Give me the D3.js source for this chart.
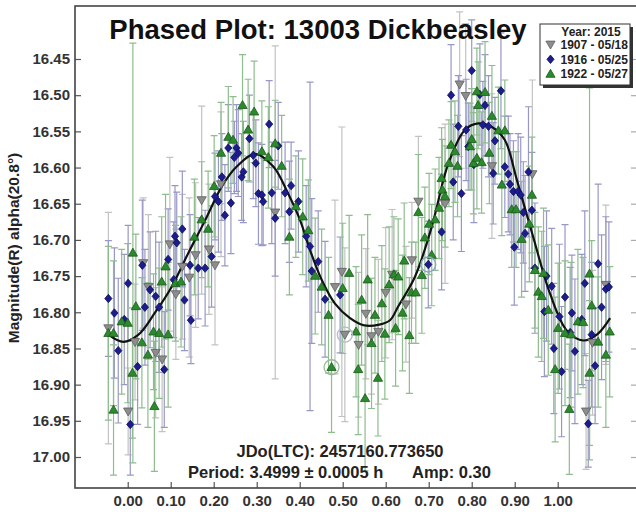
<!DOCTYPE html>
<html>
<head>
<meta charset="utf-8">
<script src="https://cdn.jsdelivr.net/npm/d3@7"></script>
<style>
  html, body { margin: 0; padding: 0; background: #fff; }
  svg { display: block; font-family: "Liberation Sans", Arial, sans-serif; }
</style>
</head>
<body>
<svg id="chart" width="636" height="512"></svg>
<script>
// ---- Session 1907 - 05/18 (grey, down triangles)
const grayPhase = [-0.045, 0.001, 0.017, 0.036, 0.048, 0.065, 0.080, 0.098, 0.112, 0.127, 0.143, 0.158, 0.172, 0.189, 0.203, 0.217,
  0.343, 0.482, 0.498, 0.505, 0.537, 0.554, 0.567, 0.583, 0.600, 0.615, 0.647, 0.661, 0.676, 0.738, 0.772, 0.786, 0.847, 0.941,
  1.066, 1.081, 1.112];
const grayMag = [16.822, 16.937, 16.841, 16.732, 16.765, 16.856, 16.865, 16.706, 16.775, 16.737, 16.752, 16.721, 16.645, 16.713, 16.735, 16.623,
  16.662, 16.765, 16.744, 16.831, 16.845, 16.802, 16.833, 16.827, 16.773, 16.748, 16.789, 16.728, 16.647, 16.650, 16.485, 16.501, 16.598, 16.609,
  16.937, 16.842, 16.762];
const grayErr = [0.16, 0.06, 0.08, 0.09, 0.10, 0.09, 0.10, 0.12, 0.09, 0.10, 0.11, 0.10, 0.13, 0.09, 0.11, 0.10,
  0.23, 0.12, 0.20, 0.12, 0.10, 0.09, 0.08, 0.10, 0.09, 0.09, 0.08, 0.08, 0.09, 0.11, 0.10, 0.10, 0.10, 0.13,
  0.08, 0.10, 0.11];

// ---- Session 1916 - 05/25 (blue diamonds)
const bluePhase = [-0.045, -0.031, -0.022, -0.008, 0.001, 0.006, 0.023, 0.034, 0.040, 0.052, 0.065, 0.073, 0.085, 0.094, 0.107, 0.110,
  0.114, 0.127, 0.132, 0.145, 0.147, 0.164, 0.180, 0.195, 0.203, 0.211, 0.219, 0.226, 0.234, 0.240, 0.248, 0.253, 0.257, 0.265, 0.269,
  0.283, 0.292, 0.298, 0.304, 0.312, 0.315, 0.329, 0.335, 0.343, 0.350, 0.366, 0.376, 0.380, 0.397, 0.415, 0.424, 0.428, 0.443, 0.459,
  0.494, 0.699, 0.730, 0.752, 0.757, 0.769, 0.776, 0.787, 0.792, 0.800, 0.805, 0.819, 0.831, 0.826, 0.839, 0.850, 0.854, 0.868, 0.877,
  0.885, 0.889, 0.897, 0.908, 0.914, 0.920, 0.924, 0.932, 0.940, 0.899, 0.947, 0.974, 0.986, 0.969, 0.991, 1.004, 1.009, 1.017, 1.029,
  1.033, 1.040, 1.056, 1.063, 1.071, 1.079, 1.087, 1.094, 1.102, 1.112, 1.119];
const blueMag = [16.781, 16.801, 16.853, 16.810, 16.760, 16.955, 16.875, 16.735, 16.793, 16.769, 16.778, 16.793, 16.879, 16.727, 16.755, 16.695,
  16.704, 16.685, 16.783, 16.735, 16.811, 16.739, 16.739, 16.723, 16.640, 16.647, 16.613, 16.666, 16.573, 16.649, 16.586, 16.573, 16.580, 16.613, 16.606,
  16.560, 16.583, 16.594, 16.636, 16.638, 16.647, 16.540, 16.635, 16.670, 16.570, 16.635, 16.661, 16.625, 16.647, 16.695, 16.709, 16.743, 16.730, 16.782,
  16.776, 16.734, 16.689, 16.500, 16.620, 16.543, 16.636, 16.548, 16.571, 16.466, 16.596, 16.499, 16.514, 16.541, 16.543, 16.608, 16.563, 16.494, 16.599,
  16.609, 16.623, 16.633, 16.633, 16.638, 16.662, 16.691, 16.606, 16.659, 16.710, 16.739, 16.750, 16.764, 16.799, 16.850, 16.806, 16.882, 16.779, 16.828,
  16.801, 16.854, 16.810, 16.760, 16.954, 16.831, 16.874, 16.733, 16.793, 16.768, 16.765];
const blueErr = [0.08, 0.09, 0.10, 0.09, 0.08, 0.07, 0.08, 0.09, 0.08, 0.08, 0.09, 0.09, 0.08, 0.07, 0.08, 0.07,
  0.07, 0.08, 0.07, 0.07, 0.06, 0.07, 0.08, 0.07, 0.06, 0.07, 0.06, 0.07, 0.06, 0.07, 0.05, 0.06, 0.06, 0.06, 0.07,
  0.06, 0.06, 0.06, 0.07, 0.07, 0.06, 0.06, 0.07, 0.08, 0.06, 0.07, 0.07, 0.06, 0.07, 0.07, 0.227, 0.10, 0.07, 0.08,
  0.08, 0.06, 0.08, 0.07, 0.08, 0.07, 0.08, 0.07, 0.06, 0.07, 0.08, 0.07, 0.07, 0.06, 0.07, 0.07, 0.06, 0.08, 0.07,
  0.08, 0.07, 0.07, 0.08, 0.08, 0.07, 0.08, 0.09, 0.08, 0.08, 0.09, 0.09, 0.08, 0.09, 0.09, 0.10, 0.09, 0.10, 0.09,
  0.08, 0.10, 0.09, 0.10, 0.06, 0.10, 0.08, 0.11, 0.10, 0.10, 0.09];

// ---- Session 1922 - 05/27 (green up triangles)
const greenPhase = [-0.045, -0.033, -0.033, -0.014, 0.000, 0.011, 0.012, 0.019, 0.033, 0.047, 0.060, 0.062, 0.073, 0.079, 0.088, 0.094,
  0.111, 0.124, 0.155, 0.172, 0.187, 0.201, 0.217, 0.234, 0.245, 0.267, 0.280, 0.294, 0.312, 0.327, 0.343, 0.358, 0.376, 0.391, 0.407,
  0.420, 0.436, 0.451, 0.467, 0.474, 0.500, 0.515, 0.531, 0.536, 0.544, 0.552, 0.558, 0.567, 0.575, 0.582, 0.591, 0.598, 0.608, 0.619,
  0.623, 0.629, 0.639, 0.643, 0.655, 0.660, 0.670, 0.676, 0.684, 0.691, 0.701, 0.707, 0.715, 0.724, 0.730, 0.732, 0.738, 0.747, 0.752,
  0.761, 0.767, 0.796, 0.800, 0.804, 0.812, 0.812, 0.815, 0.823, 0.831, 0.841, 0.847, 0.862, 0.870, 0.877, 0.893, 0.903, 0.916, 0.934,
  0.940, 0.947, 0.955, 0.963, 0.967, 0.978, 0.994, 1.001, 1.017, 1.027, 1.031, 1.047, 1.059, 1.074, 1.074, 1.079, 1.094, 1.112, 1.121];
const greenMag = [16.829, 16.829, 16.935, 16.813, 16.815, 16.884, 16.718, 16.792, 16.842, 16.859, 16.827, 16.930, 16.829, 16.758, 16.737, 16.831,
  16.760, 16.758, 16.696, 16.672, 16.685, 16.626, 16.580, 16.558, 16.562, 16.514, 16.548, 16.523, 16.578, 16.586, 16.567, 16.598, 16.696, 16.654, 16.668,
  16.687, 16.750, 16.765, 16.804, 16.876, 16.767, 16.746, 16.827, 16.879, 16.783, 16.919, 16.755, 16.843, 16.804, 16.891, 16.788, 16.830, 16.762, 16.748,
  16.822, 16.751, 16.801, 16.729, 16.832, 16.773, 16.773, 16.662, 16.749, 16.697, 16.678, 16.721, 16.672, 16.656, 16.615, 16.631, 16.640, 16.594, 16.569,
  16.578, 16.598, 16.571, 16.561, 16.594, 16.495, 16.587, 16.514, 16.593, 16.496, 16.580, 16.529, 16.549, 16.624, 16.549, 16.658, 16.658, 16.699, 16.678,
  16.638, 16.742, 16.772, 16.778, 16.746, 16.797, 16.879, 16.822, 16.829, 16.934, 16.831, 16.813, 16.814, 16.884, 16.747, 16.791, 16.841, 16.859, 16.827];
const greenErr = [0.12, 0.10, 0.09, 0.10, 0.11, 0.09, 0.29, 0.10, 0.09, 0.10, 0.08, 0.09, 0.09, 0.09, 0.10, 0.10,
  0.08, 0.09, 0.08, 0.08, 0.08, 0.07, 0.07, 0.07, 0.06, 0.07, 0.07, 0.07, 0.07, 0.07, 0.06, 0.07, 0.08, 0.07, 0.08,
  0.07, 0.08, 0.08, 0.08, 0.09, 0.09, 0.08, 0.09, 0.09, 0.09, 0.10, 0.09, 0.09, 0.08, 0.08, 0.08, 0.09, 0.08, 0.08,
  0.08, 0.08, 0.08, 0.08, 0.08, 0.07, 0.07, 0.08, 0.08, 0.07, 0.07, 0.07, 0.07, 0.07, 0.07, 0.07, 0.07, 0.06, 0.06,
  0.07, 0.07, 0.06, 0.07, 0.07, 0.06, 0.07, 0.06, 0.07, 0.07, 0.07, 0.07, 0.06, 0.07, 0.07, 0.08, 0.08, 0.08, 0.08,
  0.08, 0.08, 0.09, 0.09, 0.09, 0.09, 0.10, 0.09, 0.10, 0.09, 0.10, 0.10, 0.09, 0.10, 0.257, 0.09, 0.09, 0.10, 0.09];

// Points ringed on the plot
const ringSeries = ["1922", "1907", "1916"];
const ringPhase = [0.474, 0.505, 0.699];
const ringMag = [16.876, 16.831, 16.734];

// Fourier fit of the light curve
const fitPhase = [-0.045, -0.010, 0.025, 0.063, 0.102, 0.141, 0.180, 0.219, 0.253, 0.296, 0.339, 0.373, 0.401, 0.424, 0.451, 0.482,
  0.517, 0.550, 0.585, 0.610, 0.629, 0.668, 0.707, 0.746, 0.784, 0.815, 0.847, 0.877, 0.905, 0.943, 0.982, 1.021, 1.060, 1.091, 1.122];
const fitMag = [16.831, 16.841, 16.831, 16.801, 16.765, 16.718, 16.673, 16.626, 16.599, 16.581, 16.599, 16.636, 16.673, 16.714, 16.755, 16.788,
  16.808, 16.818, 16.817, 16.811, 16.792, 16.751, 16.682, 16.594, 16.548, 16.539, 16.544, 16.562, 16.617, 16.696, 16.774, 16.825, 16.839, 16.831, 16.808];

const xTicks = [0, 0.1, 0.2, 0.3, 0.4, 0.5, 0.6, 0.7, 0.8, 0.9, 1.0];
const yTicks = [16.45, 16.50, 16.55, 16.60, 16.65, 16.70, 16.75, 16.80, 16.85, 16.90, 16.95, 17.00];

const legendTitle = "Year: 2015";
const seriesNames = ["1907 - 05/18", "1916 - 05/25", "1922 - 05/27"];

// ---- Layout
const svg = d3.select("#chart");
const frame = { left: 75, right: 637, top: 6, bottom: 488 };

const x = d3.scaleLinear().domain([-0.1226, 1.1844]).range([frame.left, frame.right]);
const y = d3.scaleLinear().domain([16.45, 17.00]).range([59, 457]);

const series = [
  { key: "1907", name: seriesNames[0], phase: grayPhase, mag: grayMag, err: grayErr,
    fill: "#8d8d8d", stroke: "#5e5e5e", bar: "#c2c2c2", shape: "down" },
  { key: "1916", name: seriesNames[1], phase: bluePhase, mag: blueMag, err: blueErr,
    fill: "#1c1c8e", stroke: "#0c0c5a", bar: "#9898c6", shape: "diamond" },
  { key: "1922", name: seriesNames[2], phase: greenPhase, mag: greenMag, err: greenErr,
    fill: "#2b8a2b", stroke: "#1a5a1a", bar: "#8ebd8e", shape: "up" }
];

const shapes = {
  down: "M0,4.6L4.6,-3.4L-4.6,-3.4Z",
  up: "M0,-4.8L4.6,3.2L-4.6,3.2Z",
  diamond: "M0,-4.2L3.6,0L0,4.2L-3.6,0Z"
};

const plot = svg.append("g");
svg.append("defs").append("clipPath").attr("id", "plotClip")
  .append("rect").attr("x", frame.left).attr("y", frame.top)
  .attr("width", frame.right - frame.left).attr("height", frame.bottom - frame.top);
plot.attr("clip-path", "url(#plotClip)");

// Error bars first, every session
series.forEach(s => {
  const rows = s.phase.map((p, i) => ({ p, m: s.mag[i], e: s.err[i] }));
  const g = plot.append("g").attr("stroke", s.bar).attr("stroke-width", 1.2).attr("fill", "none");
  g.selectAll("path").data(rows).join("path")
    .attr("d", d => {
      const cx = x(d.p), y0 = y(d.m - d.e), y1 = y(d.m + d.e);
      return `M${cx},${y0}V${y1}M${cx - 3.5},${y0}H${cx + 3.5}M${cx - 3.5},${y1}H${cx + 3.5}`;
    });
});

// Fit curve
plot.append("path")
  .datum(fitPhase.map((p, i) => [p, fitMag[i]]))
  .attr("fill", "none").attr("stroke", "#111").attr("stroke-width", 2.2)
  .attr("d", d3.line().x(d => x(d[0])).y(d => y(d[1])).curve(d3.curveCatmullRom.alpha(0.5)));

// Markers
series.forEach(s => {
  const rows = s.phase.map((p, i) => ({ p, m: s.mag[i] }));
  plot.append("g").selectAll("path").data(rows).join("path")
    .attr("transform", d => `translate(${x(d.p)},${y(d.m)})`)
    .attr("d", shapes[s.shape])
    .attr("fill", s.fill).attr("stroke", s.stroke).attr("stroke-width", 0.8);
});

// Rings around flagged points
const ringColor = { "1907": "#b9b9c9", "1916": "#8fa3c8", "1922": "#98bb98" };
plot.append("g").selectAll("circle").data(ringPhase.map((p, i) => ({ p, m: ringMag[i], k: ringSeries[i] })))
  .join("circle")
  .attr("cx", d => x(d.p)).attr("cy", d => y(d.m)).attr("r", 7.5)
  .attr("fill", "none").attr("stroke", d => ringColor[d.k]).attr("stroke-width", 1.3);

// ---- Axes (ticks point inward)
const fmt = d3.format(".2f");
const axisStyle = g => {
  g.select(".domain").remove();
  g.selectAll(".tick line").attr("stroke", "#555").attr("stroke-width", 1.2);
  g.selectAll(".tick text").attr("fill", "#333").attr("font-size", 15).attr("font-weight", "bold")
    .attr("font-family", "'Liberation Sans', Arial, sans-serif");
};

svg.append("g").attr("transform", `translate(${frame.left},0)`)
  .call(d3.axisLeft(y).tickValues(yTicks).tickFormat(fmt).tickSizeInner(-6).tickSizeOuter(0).tickPadding(5))
  .call(axisStyle);

svg.append("g").attr("transform", `translate(${frame.right},0)`)
  .call(d3.axisRight(y).tickValues(yTicks).tickFormat("").tickSizeInner(-6).tickSizeOuter(0))
  .call(axisStyle)
  .selectAll(".tick line").attr("stroke", "#aaa");

svg.append("g").attr("transform", `translate(0,${frame.bottom})`)
  .call(d3.axisBottom(x).tickValues(xTicks).tickFormat(fmt).tickSizeInner(-6).tickSizeOuter(0).tickPadding(7))
  .call(axisStyle);

// Frame
svg.append("rect")
  .attr("x", frame.left).attr("y", frame.top)
  .attr("width", frame.right - frame.left).attr("height", frame.bottom - frame.top)
  .attr("fill", "none").attr("stroke", "#444").attr("stroke-width", 1.6);

// ---- Titles and annotations
svg.append("text")
  .attr("x", 318).attr("y", 39).attr("text-anchor", "middle")
  .attr("font-size", 27.5).attr("font-weight", "bold").attr("fill", "#111")
  .text("Phased Plot: 13003 Dickbeasley");

svg.append("text")
  .attr("transform", "translate(19,248) rotate(-90)")
  .attr("text-anchor", "middle")
  .attr("font-size", 15.5).attr("font-weight", "bold").attr("fill", "#222")
  .text("Magnitude(R) alpha(20.8°)");

svg.append("text")
  .attr("x", 340).attr("y", 457).attr("text-anchor", "middle")
  .attr("font-size", 16.5).attr("font-weight", "bold").attr("fill", "#222")
  .text("JDo(LTC): 2457160.773650");

svg.append("text")
  .attr("x", 188).attr("y", 478).attr("text-anchor", "start")
  .attr("font-size", 16.5).attr("font-weight", "bold").attr("fill", "#222")
  .text("Period: 3.4999 ± 0.0005 h");

svg.append("text")
  .attr("x", 412).attr("y", 478).attr("text-anchor", "start")
  .attr("font-size", 16.5).attr("font-weight", "bold").attr("fill", "#222")
  .text("Amp: 0.30");

// ---- Legend
const lg = svg.append("g");
lg.append("rect").attr("x", 543).attr("y", 27).attr("width", 90).attr("height", 61).attr("fill", "#333");
lg.append("rect").attr("x", 540).attr("y", 24).attr("width", 90).attr("height", 61)
  .attr("fill", "#fff").attr("stroke", "#333").attr("stroke-width", 1);
lg.append("text").attr("x", 591).attr("y", 36).attr("text-anchor", "middle")
  .attr("font-size", 12).attr("font-weight", "bold").attr("fill", "#222").text(legendTitle);
series.forEach((s, i) => {
  const cy = 44.5 + i * 14.8;
  lg.append("path").attr("transform", `translate(550.5,${cy})`).attr("d", shapes[s.shape])
    .attr("fill", s.fill).attr("stroke", s.stroke).attr("stroke-width", 0.8);
  lg.append("text").attr("x", 560.5).attr("y", cy + 4.3)
    .attr("font-size", 12).attr("font-weight", "bold").attr("fill", "#222").text(s.name);
});
</script>
</body>
</html>
